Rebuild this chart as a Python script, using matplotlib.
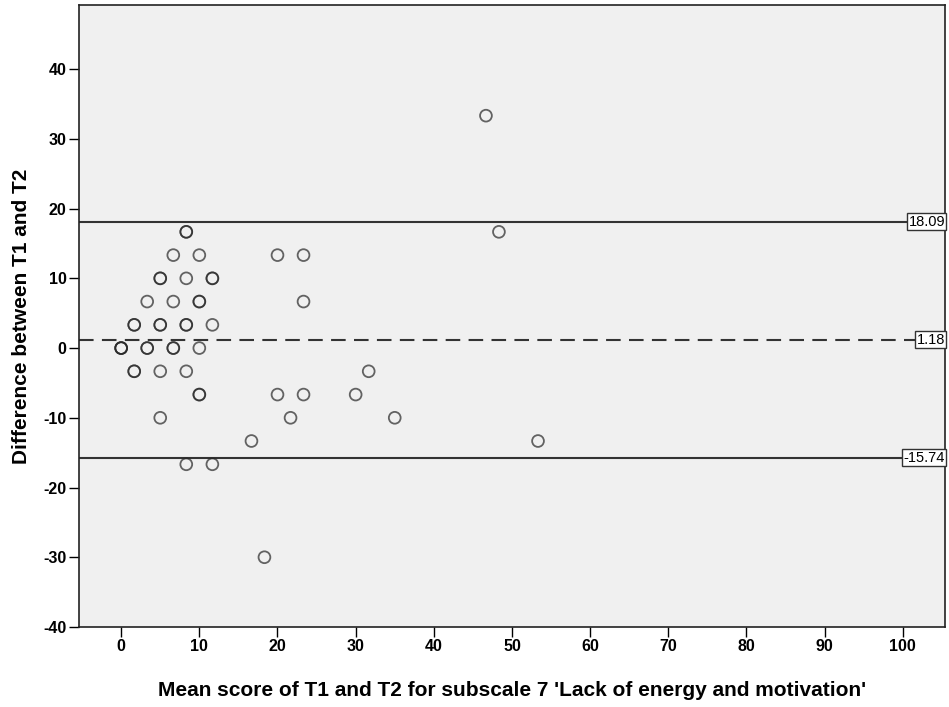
import numpy as np
import matplotlib
matplotlib.use("Agg")
import matplotlib.pyplot as plt
import matplotlib.transforms as mtransforms

# Bland-Altman data (duplicates repeated so overlaps look darker)
mean_score = [0, 0, 0,
              1.67, 1.67, 1.67, 1.67,
              3.33, 3.33, 3.33,
              5, 5, 5, 5, 5, 5,
              6.67, 6.67, 6.67, 6.67,
              8.33, 8.33, 8.33, 8.33, 8.33, 8.33, 8.33,
              10, 10, 10, 10, 10, 10,
              11.67, 11.67, 11.67, 11.67,
              16.67, 18.33, 20, 20, 21.67, 23.33, 23.33, 23.33,
              30, 31.67, 35, 46.67, 48.33, 53.33]
diff = [0, 0, 0,
        3.33, 3.33, -3.33, -3.33,
        6.67, 0, 0,
        10, 10, 3.33, 3.33, -3.33, -10,
        13.33, 6.67, 0, 0,
        16.67, 16.67, 10, 3.33, 3.33, -3.33, -16.67,
        13.33, 6.67, 6.67, 0, -6.67, -6.67,
        10, 10, 3.33, -16.67,
        -13.33, -30, 13.33, -6.67, -10, 13.33, 6.67, -6.67,
        -6.67, -3.33, -10, 33.33, 16.67, -13.33]

upper_loa = 18.09
mean_diff = 1.18
lower_loa = -15.74

xticks = list(range(0, 101, 10))
yticks = list(range(-40, 41, 10))

plt.rcParams['font.family'] = ['Liberation Sans', 'DejaVu Sans']
plt.rcParams['axes.unicode_minus'] = False

fig = plt.figure(figsize=(9.49, 7.07), dpi=100)
ax = fig.add_axes([0.0832, 0.1132, 0.9126, 0.8797])
ax.set_facecolor('#f0f0f0')

line_col = '#333333'
ax.axhline(upper_loa, color=line_col, lw=1.5, zorder=2)
ax.axhline(lower_loa, color=line_col, lw=1.5, zorder=2)
ax.axhline(mean_diff, color=line_col, lw=1.5, dashes=(7, 4), zorder=2)

ax.scatter(mean_score, diff, s=72, facecolors='none',
           edgecolors=(0.15, 0.15, 0.15, 0.7), linewidths=1.3, zorder=3)

trans = mtransforms.blended_transform_factory(ax.transAxes, ax.transData)
for v in [upper_loa, mean_diff, lower_loa]:
    ax.text(1.0, v, f"{v:.2f}", transform=trans, ha='right', va='center',
            fontsize=10.5, zorder=5, clip_on=False,
            bbox=dict(boxstyle='square,pad=0.1', fc='white', ec='#333333', lw=1))

ax.set_xlim(-5.4, 105.4)
ax.set_ylim(-40, 49.2)
ax.set_xticks(xticks)
ax.set_yticks(yticks)
ax.tick_params(direction='out', length=7, width=1, colors='black',
               labelsize=11.5, pad=2)
for lab in ax.get_xticklabels() + ax.get_yticklabels():
    lab.set_fontweight('bold')
for sp in ax.spines.values():
    sp.set_color('#222222')
    sp.set_linewidth(1.2)

ax.set_xlabel("Mean score of T1 and T2 for subscale 7 'Lack of energy and motivation'",
              fontsize=15, fontweight='bold', labelpad=19)
ax.set_ylabel("Difference between T1 and T2", fontsize=15,
              fontweight='bold', labelpad=9)

fig.savefig("out.png", dpi=100)
